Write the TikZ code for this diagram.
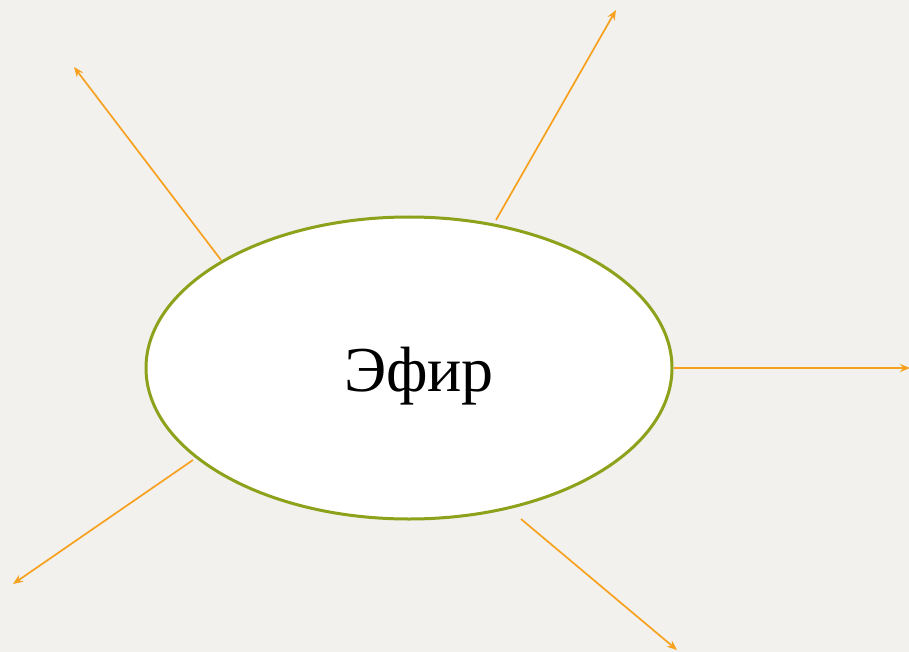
\documentclass[tikz,border=0pt]{standalone}
\usepackage{fontspec}
\setmainfont{Liberation Serif}
\usepackage{xcolor}
\usepackage{tikz}
\usetikzlibrary{arrows.meta,shapes.geometric}
\definecolor{paper}{RGB}{242,241,237}
\definecolor{rayorange}{RGB}{247,161,31}
\definecolor{olive}{RGB}{141,161,26}

\begin{document}
\begin{tikzpicture}[x=1pt,y=-1pt,>={Stealth[length=10pt,width=8pt]},
  ray/.style={->,rayorange,line width=1.7pt}]
  \fill[paper] (0,0) rectangle (909,652);
  \useasboundingbox (0,0) rectangle (909,652);
  \node[ellipse,draw=olive,line width=3pt,fill=white,
    minimum width=526pt,minimum height=302pt,inner sep=0pt] (ether) at (409,368) {};
  \node[anchor=base,font=\fontsize{64}{70}\selectfont] (word) at (419,391) {Эфир};
  % rays
  \coordinate (s1) at (221,260); \coordinate (e1) at (74,67);
  \coordinate (s2) at (496,220); \coordinate (e2) at (616,10);
  \coordinate (s3) at (674,368); \coordinate (e3) at (910,368);
  \coordinate (s4) at (193,460); \coordinate (e4) at (13,584);
  \coordinate (s5) at (521,519); \coordinate (e5) at (677,650);
  \foreach \i in {1,...,5}
    \draw[ray] (s\i) -- (e\i);
\end{tikzpicture}
\end{document}
